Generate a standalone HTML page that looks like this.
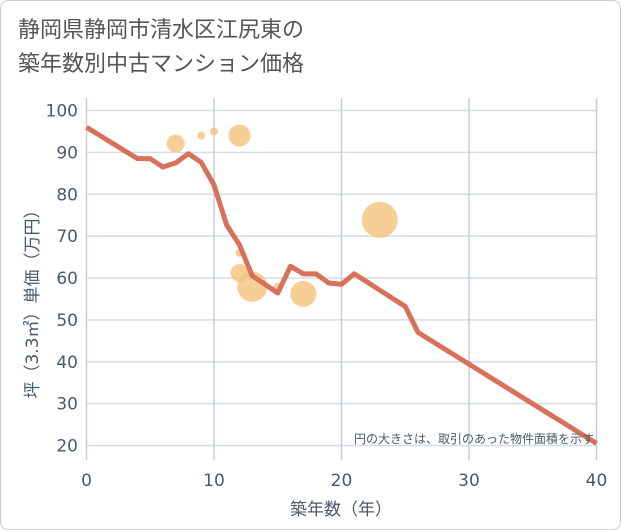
<!DOCTYPE html>
<html><head><meta charset="utf-8"><style>
body{margin:0;background:#fff;font-family:"DejaVu Sans","Noto Sans CJK JP",sans-serif}
#wrap{position:relative;width:619px;height:528px;border:1px solid #ccc;border-radius:8px;overflow:hidden;background:#fff}
.title{position:absolute;left:17px;top:13px;font-size:22px;line-height:34px;color:#555;font-family:"DejaVu Sans","Noto Sans CJK JP",sans-serif}
svg text{font-family:"DejaVu Sans","Noto Sans CJK JP",sans-serif}
</style></head><body>
<div id="wrap">
<div class="title">静岡県静岡市清水区江尻東の<br>築年数別中古マンション価格</div>
<svg id="chart" width="621" height="530" style="position:absolute;left:-1px;top:-1px"></svg>
</div>
<script>
const xTicks=[0,10,20,30,40];
const yTicks=[20,30,40,50,60,70,80,90,100];
const lineAges=[0,4,5,6,7,8,9,10,11,12,13,14,15,16,17,18,19,20,21,25,26,40];
const linePrices=[96,88.5,88.5,86.5,87.5,89.7,87.6,82.2,72.6,67.9,60.5,58.5,56.4,62.8,61,61,58.8,58.5,61,53.2,47,20.5];
const bubbleAges=[7,9,10,12,23,12,12,13,15,17];
const bubblePrices=[92.1,94,95,94,73.9,66,61.2,57.9,57.9,56.2];
const bubbleSizes=[9,4,4,11,18,4,9,15,4,13];
const NS='http://www.w3.org/2000/svg';
const svg=document.getElementById('chart');
const X0=86.5,X1=596.5,Y20=445.5,Y100=110.5;
const sx=v=>X0+(v-0)/40*(X1-X0);
const sy=v=>Y20-(v-20)/80*(Y20-Y100);
const TC='#4a5a6c';
function mk(t,a){const e=document.createElementNS(NS,t);for(const k in a)e.setAttribute(k,a[k]);svg.appendChild(e);return e;}
for(const t of yTicks){
 const l=mk('line',{x1:X0,x2:X1,y1:sy(t),y2:sy(t),stroke:'#d5dce6','stroke-width':1.5});
 
 
 const tx=mk('text',{x:78,y:sy(t)+6,'text-anchor':'end','font-size':17,fill:TC});
 tx.textContent=t;
 
 
}
for(const t of xTicks){
 const l=mk('line',{x1:sx(t),x2:sx(t),y1:98,y2:460,stroke:'#c6cfdb','stroke-width':1.5});
 
 
 const tx=mk('text',{x:sx(t),y:486,'text-anchor':'middle','font-size':17,fill:TC});
 tx.textContent=t;
 
 
}
bubbleAges.forEach((a,i)=>{
 const c=mk('circle',{cx:sx(a),cy:sy(bubblePrices[i]),r:bubbleSizes[i],fill:'#f2c37a','fill-opacity':0.8});
 
 
});
const pts=lineAges.map((a,i)=>sx(a)+','+sy(linePrices[i])).join(' ');
const pl=mk('polyline',{points:pts,fill:'none',stroke:'#d7715a','stroke-width':5,'stroke-linejoin':'round'});


const note=mk('text',{x:594,y:443,'text-anchor':'end','font-size':12,fill:TC});
note.textContent='円の大きさは、取引のあった物件面積を示す';


const xt=mk('text',{x:341,y:515,'text-anchor':'middle','font-size':17,fill:TC});
xt.textContent='築年数（年）';


const yt=mk('text',{x:0,y:0,'text-anchor':'middle','font-size':17,fill:TC,transform:'translate(38,300) rotate(-90)'});
yt.textContent='坪（3.3㎡）単価（万円）';


</script>
</body></html>
